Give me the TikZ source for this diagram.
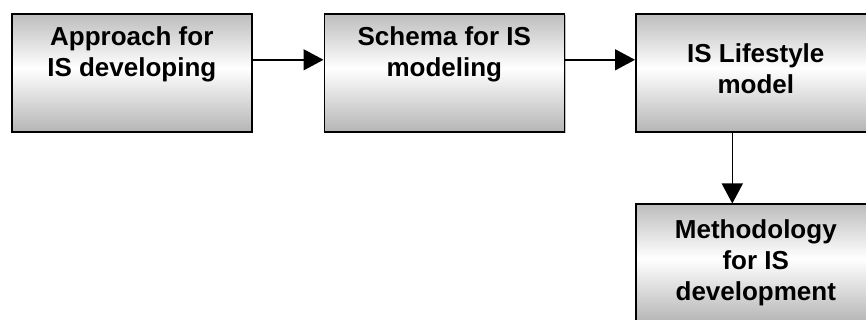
\documentclass[tikz,border=0pt]{standalone}
\usepackage{fontspec}
\setmainfont{Liberation Sans}
\usetikzlibrary{arrows.meta,shadows}
\definecolor{shtop}{gray}{0.74}
\definecolor{shbot}{gray}{0.71}
\pgfdeclareverticalshading{boxshade}{100bp}{color(0bp)=(shbot); color(25bp)=(shbot); color(52bp)=(white); color(75bp)=(shtop); color(100bp)=(shtop)}
\begin{document}
\begin{tikzpicture}[x=1pt,y=-1pt,
  box/.style={draw=black, line width=1.6pt, shading=boxshade, minimum width=240pt, minimum height=118pt, inner sep=0pt, anchor=north west,
    drop shadow={shadow xshift=1.5pt, shadow yshift=-1.5pt, opacity=0.5, fill=gray}},
  lbl/.style={font=\bfseries\fontsize{26}{31}\selectfont, align=center, anchor=north, inner sep=0pt},
  arr/.style={line width=1.5pt, -{Triangle[length=20pt,width=21pt]}}]
\useasboundingbox (0,0) rectangle (866,320);
\clip (0,0) rectangle (866,320);
\node[box] (b1) at (11,13) {};
\node[box] (b2) at (323.5,13) {};
\node[box] (b3) at (635,13) {};
\node[box] (b4) at (635,203.5) {};
\node[lbl] (t1) at ([yshift=-13pt]b1.north) {Approach for\\IS developing};
\node[lbl] (t2) at ([yshift=-13pt]b2.north) {Schema for IS\\modeling};
\node[lbl] (t3) at ([yshift=-30pt]b3.north) {IS Lifestyle\\model};
\node[lbl] (t4) at ([yshift=-15.5pt]b4.north) {Methodology\\for IS\\development};
\draw[arr] ([yshift=13pt]b1.east) -- ([yshift=13pt]b2.west);
\draw[arr] ([yshift=13pt]b2.east) -- ([yshift=13pt]b3.west);
\draw[arr] ([xshift=-23.5pt]b3.south) -- ([xshift=-23.5pt]b4.north);
\end{tikzpicture}
\end{document}
